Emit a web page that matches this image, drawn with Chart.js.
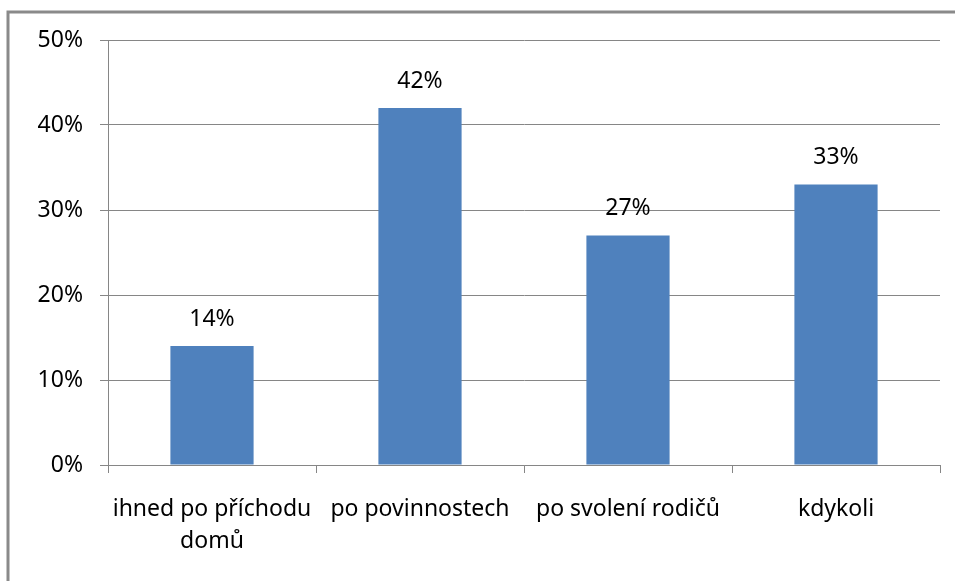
<!DOCTYPE html>
<html>
<head>
<meta charset="utf-8">
<script src="https://cdn.jsdelivr.net/npm/chart.js@4"></script>
<style>
  html, body { margin: 0; padding: 0; background: #ffffff; }
  #wrap { position: relative; width: 955px; height: 581px; }
</style>
</head>
<body>
<div id="wrap"><canvas id="chart" width="955" height="581"></canvas></div>
<script>
// data
const categories = [['ihned po příchodu', 'domů'], 'po povinnostech', 'po svolení rodičů', 'kdykoli'];
const shares = [14, 42, 27, 33];
const yTicks = [0, 10, 20, 30, 40, 50];

const gridColor = '#868686';
const barColor = '#4F81BD';
const fontFamily = '"Noto Sans", sans-serif';

// outer frame (only top and left edges show in the picture)
const framePlugin = {
  id: 'frame',
  beforeDraw(chart) {
    const ctx = chart.ctx;
    ctx.save();
    ctx.strokeStyle = '#8a8a8a';
    ctx.lineWidth = 3;
    ctx.beginPath();
    ctx.moveTo(8, 581);
    ctx.lineTo(8, 12);
    ctx.lineTo(955, 12);
    ctx.stroke();
    ctx.restore();
  }
};

// value labels above the bars
const valueLabels = {
  id: 'valueLabels',
  afterDatasetsDraw(chart) {
    const ctx = chart.ctx;
    const meta = chart.getDatasetMeta(0);
    ctx.save();
    ctx.font = '23px ' + fontFamily;
    ctx.fillStyle = '#000000';
    ctx.textAlign = 'center';
    ctx.textBaseline = 'middle';
    meta.data.forEach(function(bar, i) {
      ctx.fillText(shares[i] + '%', bar.x, bar.y - 27);
    });
    ctx.restore();
  }
};

new Chart(document.getElementById('chart').getContext('2d'), {
  type: 'bar',
  data: {
    labels: categories,
    datasets: [{
      data: shares,
      backgroundColor: barColor,
      categoryPercentage: 1,
      barPercentage: 0.4
    }]
  },
  options: {
    responsive: false,
    animation: false,
    layout: { padding: { top: 40, right: 15, bottom: 0, left: 0 } },
    plugins: {
      legend: { display: false },
      tooltip: { enabled: false }
    },
    scales: {
      x: {
        afterFit: function(scale) { scale.height = 116; },
        border: { color: gridColor, width: 1 },
        grid: {
          offset: true,
          drawOnChartArea: false,
          drawTicks: true,
          tickLength: 8,
          color: gridColor
        },
        ticks: {
          font: { family: fontFamily, size: 23, lineHeight: 1.4 },
          color: '#000000',
          padding: 20,
          maxRotation: 0,
          autoSkip: false
        }
      },
      y: {
        min: 0,
        max: 50,
        afterFit: function(scale) { scale.width = 108; },
        afterBuildTicks: function(scale) {
          scale.ticks = yTicks.map(function(v) { return { value: v }; });
        },
        border: { color: gridColor, width: 1 },
        grid: {
          color: gridColor,
          tickLength: 8
        },
        ticks: {
          font: { family: fontFamily, size: 23 },
          color: '#000000',
          padding: 17,
          callback: function(value) { return value + '%'; }
        }
      }
    }
  },
  plugins: [framePlugin, valueLabels]
});
</script>
</body>
</html>
